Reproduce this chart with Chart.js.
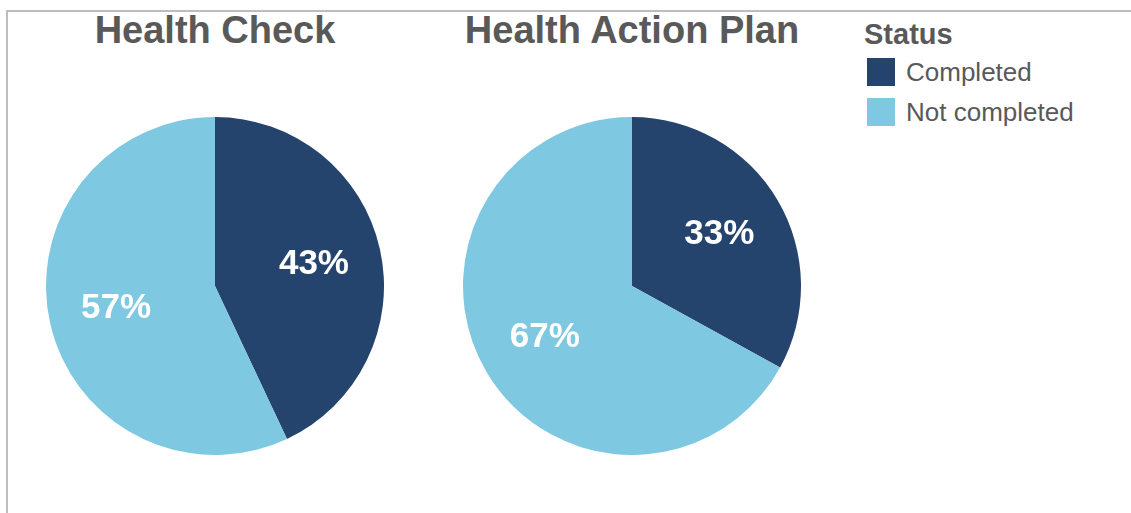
<!DOCTYPE html>
<html>
<head>
<meta charset="utf-8">
<script src="https://cdn.jsdelivr.net/npm/chart.js@4/dist/chart.umd.min.js"></script>
<style>
    html, body { margin: 0; padding: 0; background: #fff; }
    body { width: 1131px; height: 513px; position: relative; overflow: hidden;
           font-family: "Liberation Sans", Arial, sans-serif; }
    .frame { position: absolute; left: 6px; top: 10px; right: 0; bottom: -4px;
             border-top: 2px solid #bdbdbd; border-left: 2px solid #bdbdbd; }
    .title { position: absolute; top: 9px; width: 420px; text-align: center;
             font-size: 38px; font-weight: bold; color: #595959; }
    .pie { position: absolute; width: 338px; height: 338px; top: 117px; }
    .legend { position: absolute; left: 864px; top: 17px; color: #595959; }
    .legend h4 { margin: 0 0 1px 0; font-size: 29px; font-weight: bold; line-height: 34px; }
    .legend .item { display: flex; align-items: center; height: 40px; margin-left: 3px; }
    .legend .sw { width: 28px; height: 28px; margin-right: 11px; }
    .legend span { font-size: 26px; }
</style>
</head>
<body>
<div class="frame"></div>
<div class="title" style="left:5px">Health Check</div>
<div class="title" style="left:422px">Health Action Plan</div>
<div class="pie" style="left:46px"><canvas id="hcChart"></canvas></div>
<div class="pie" style="left:463px"><canvas id="hapChart"></canvas></div>
<div class="legend" id="legend"></div>
<script>
const statusLabels = ["Completed", "Not completed"];
const statusColors = ["#24446e", "#7fc8e2"];
const healthCheckValues = [43, 57];
const actionPlanValues = [33, 67];
const legendTitle = "Status";

const pctLabels = {
    id: "pctLabels",
    afterDatasetsDraw(chart) {
        const ctx = chart.ctx;
        const data = chart.data.datasets[0].data;
        const total = data.reduce((a, b) => a + b, 0);
        ctx.save();
        ctx.fillStyle = "#ffffff";
        ctx.font = "bold 35px 'Liberation Sans', Arial, sans-serif";
        ctx.textAlign = "center";
        ctx.textBaseline = "middle";
        chart.getDatasetMeta(0).data.forEach((arc, i) => {
            const p = arc.getProps(["x", "y", "startAngle", "endAngle", "outerRadius"], true);
            const mid = (p.startAngle + p.endAngle) / 2;
            const r = p.outerRadius * 0.6;
            const pct = Math.round((data[i] / total) * 100) + "%";
            ctx.fillText(pct, p.x + Math.cos(mid) * r, p.y + Math.sin(mid) * r);
        });
        ctx.restore();
    },
};

function makePie(id, values) {
    const ctx = document.getElementById(id).getContext("2d");
    return new Chart(ctx, {
        type: "pie",
        data: {
            labels: statusLabels,
            datasets: [
                {
                    data: values,
                    backgroundColor: statusColors,
                    borderWidth: 0,
                },
            ],
        },
        options: {
            responsive: true,
            maintainAspectRatio: false,
            animation: false,
            layout: { padding: 0 },
            plugins: {
                legend: { display: false },
                tooltip: { enabled: false },
            },
        },
        plugins: [pctLabels],
    });
}

makePie("hcChart", healthCheckValues);
makePie("hapChart", actionPlanValues);

document.getElementById("legend").innerHTML =
    `<h4>${legendTitle}</h4>` +
    statusLabels
        .map(
            (label, i) => `
        <div class="item">
            <div class="sw" style="background:${statusColors[i]}"></div>
            <span>${label}</span>
        </div>`,
        )
        .join("");
</script>
</body>
</html>
